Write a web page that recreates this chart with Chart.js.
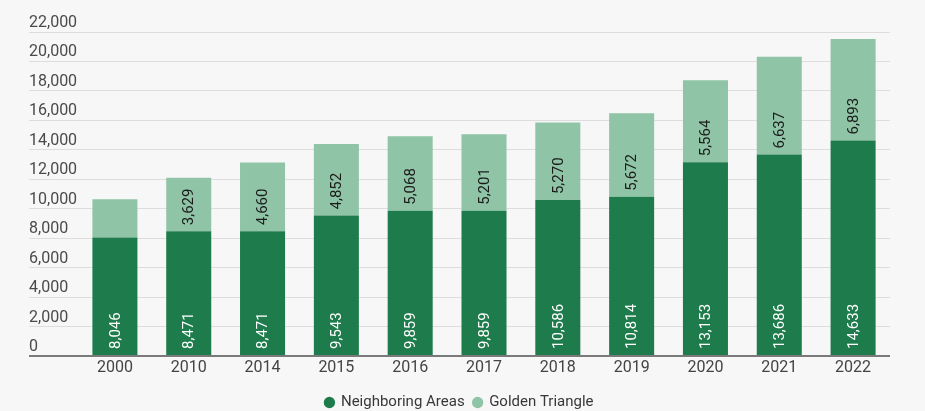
<!DOCTYPE html>
<html>
<head>
<meta charset="utf-8">
<script src="https://cdn.jsdelivr.net/npm/chart.js@4"></script>
<style>
  html, body { margin: 0; padding: 0; background: #f7f7f7; }
  #wrap { width: 925px; height: 411px; }
</style>
</head>
<body>
<div id="wrap"><canvas id="c" width="925" height="411"></canvas></div>
<script>
const categories = ['2000','2010','2014','2015','2016','2017','2018','2019','2020','2021','2022'];
const neighboringAreas = [8046, 8471, 8471, 9543, 9859, 9859, 10586, 10814, 13153, 13686, 14633];
const goldenTriangle = [2593, 3629, 4660, 4852, 5068, 5201, 5270, 5672, 5564, 6637, 6893];
const seriesNames = ['Neighboring Areas', 'Golden Triangle'];
const yTicks = { min: 0, max: 22000, step: 2000 };

const DARK = '#1e7b4b';
const LIGHT = '#8fc4a6';
const FONT = 'Roboto, "Noto Sans", sans-serif';

const fmt = v => Number(v).toLocaleString('en-US');

const barLabels = {
  id: 'barLabels',
  afterDatasetsDraw(chart) {
    const ctx = chart.ctx;
    ctx.save();
    ctx.font = '15px ' + FONT;
    chart.data.datasets.forEach((ds, di) => {
      const meta = chart.getDatasetMeta(di);
      meta.data.forEach((el, i) => {
        const txt = fmt(ds.data[i]);
        const w = ctx.measureText(txt).width;
        const h = Math.abs(el.base - el.y);
        if (w + 10 > h) return;
        ctx.save();
        ctx.translate(el.x, el.base - 6);
        ctx.rotate(-Math.PI / 2);
        ctx.fillStyle = di === 0 ? '#ffffff' : '#1a1a1a';
        ctx.textAlign = 'left';
        ctx.textBaseline = 'middle';
        ctx.fillText(txt, 0, 1);
        ctx.restore();
      });
    });
    ctx.restore();
  }
};

new Chart(document.getElementById('c'), {
  type: 'bar',
  data: {
    labels: categories,
    datasets: [
      { label: seriesNames[0], data: neighboringAreas, backgroundColor: DARK, borderWidth: 0,
        categoryPercentage: 0.61, barPercentage: 1 },
      { label: seriesNames[1], data: goldenTriangle, backgroundColor: LIGHT, borderWidth: 0,
        categoryPercentage: 0.61, barPercentage: 1 }
    ]
  },
  options: {
    responsive: false,
    animation: false,
    devicePixelRatio: 1,
    layout: { padding: { left: 29, right: 35, top: 32, bottom: -9 } },
    plugins: {
      tooltip: { enabled: false },
      legend: {
        position: 'bottom',
        labels: {
          usePointStyle: true,
          pointStyle: 'circle',
          boxWidth: 8,
          boxHeight: 8,
          padding: 9,
          color: '#383838',
          font: { family: FONT, size: 15 }
        }
      }
    },
    scales: {
      x: {
        stacked: true,
        afterFit(scale) { scale.height = 30; },
        grid: { display: false, drawTicks: false },
        border: { display: false },
        ticks: { color: '#444444', padding: 2, font: { family: FONT, size: 16 } }
      },
      y: {
        stacked: true,
        min: yTicks.min,
        max: yTicks.max,
        afterFit(scale) { scale.width = 49; },
        border: { display: false },
        grid: {
          drawTicks: true,
          tickLength: 49,
          color: c => (c.tick && c.tick.value === 0) ? '#7a7a7a' : '#dddddd',
          tickColor: c => (c.tick && c.tick.value === 0) ? '#7a7a7a' : '#dddddd',
          lineWidth: c => (c.tick && c.tick.value === 0) ? 2 : 1
        },
        ticks: {
          stepSize: yTicks.step,
          crossAlign: 'far',
          labelOffset: -9,
          padding: 0,
          color: '#4a4a4a',
          font: { family: FONT, size: 16 },
          callback: v => fmt(v)
        }
      }
    }
  },
  plugins: [barLabels]
});
</script>
</body>
</html>
